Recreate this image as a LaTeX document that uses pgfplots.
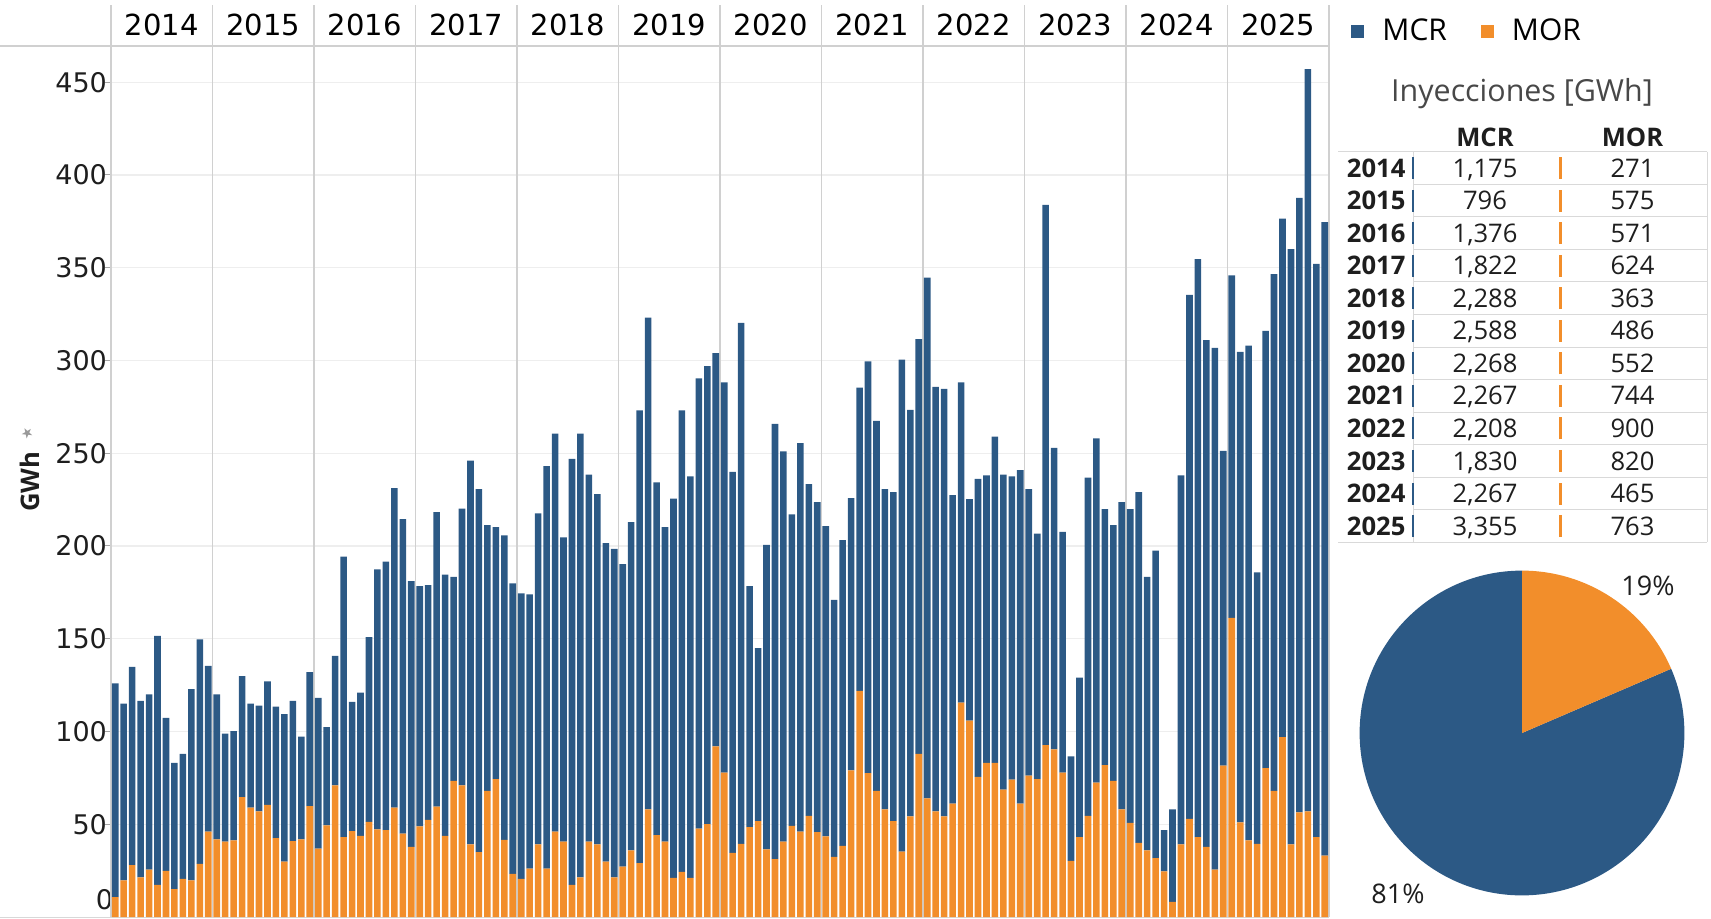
\documentclass[border=0pt]{standalone}
\usepackage{fontspec}
\setmainfont{Open Sans}
\newfontfamily\dejavu{DejaVu Sans}
\usepackage{pgfplots}
\usepackage{pgfplotstable}
\pgfplotsset{compat=1.18}
\definecolor{mcr}{RGB}{44,89,133}
\definecolor{mor}{RGB}{242,142,43}
\definecolor{divider}{RGB}{208,208,208}
\definecolor{gridc}{RGB}{238,238,238}
\definecolor{txt}{RGB}{30,30,30}
\definecolor{titlec}{RGB}{72,72,72}

\pgfplotstableread{
x mor mcr
0.5 10.7 115.3
1.5 19.8 95.2
2.5 28.0 106.8
3.5 21.4 95.1
4.5 25.5 94.5
5.5 17.3 134.2
6.5 24.9 82.5
7.5 15.1 68.0
8.5 20.5 67.4
9.5 19.8 103.0
10.5 28.7 120.9
11.5 46.0 89.4
12.5 41.9 78.1
13.5 40.6 58.3
14.5 41.3 58.9
15.5 64.6 65.2
16.5 58.9 56.1
17.5 57.0 57.0
18.5 60.5 66.5
19.5 42.5 70.9
20.5 29.9 79.4
21.5 40.9 75.6
22.5 41.9 55.4
23.5 59.8 72.2
24.5 36.9 81.2
25.5 49.4 53.0
26.5 70.9 69.9
27.5 43.1 151.2
28.5 46.3 69.6
29.5 43.8 77.1
30.5 51.3 99.6
31.5 47.2 140.2
32.5 46.9 144.6
33.5 58.9 172.3
34.5 45.0 169.5
35.5 37.8 143.3
36.5 48.8 129.5
37.5 52.3 126.6
38.5 59.5 158.8
39.5 43.8 140.8
40.5 73.4 109.9
41.5 70.9 149.3
42.5 39.1 206.9
43.5 35.0 195.6
44.5 68.0 143.3
45.5 74.3 135.8
46.5 41.6 164.1
47.5 23.3 156.5
48.5 20.5 154.0
49.5 26.1 147.8
50.5 39.1 178.5
51.5 26.1 217.0
52.5 46.0 214.5
53.5 40.6 164.1
54.5 17.3 229.6
55.5 21.4 239.1
56.5 40.6 197.8
57.5 39.1 188.9
58.5 29.9 171.7
59.5 21.4 177.0
60.5 27.1 163.1
61.5 35.9 177.0
62.5 29.0 244.1
63.5 58.0 265.1
64.5 44.1 190.2
65.5 40.6 169.5
66.5 21.1 204.4
67.5 24.3 248.8
68.5 21.1 216.4
69.5 47.6 242.8
70.5 50.1 246.9
71.5 92.0 211.9
72.5 77.8 210.4
73.5 34.6 205.4
74.5 39.4 280.9
75.5 48.5 129.8
76.5 51.7 93.2
77.5 36.5 164.1
78.5 31.2 234.6
79.5 40.6 210.4
80.5 49.1 167.9
81.5 46.0 209.4
82.5 54.5 178.9
83.5 45.7 177.9
84.5 43.5 167.2
85.5 32.4 138.6
86.5 38.4 164.7
87.5 79.1 146.7
88.5 121.9 163.5
89.5 77.5 222.0
90.5 68.0 199.4
91.5 58.0 172.6
92.5 51.7 177.3
93.5 35.3 265.2
94.5 54.2 219.2
95.5 87.9 223.6
96.5 63.9 280.7
97.5 57.0 228.7
98.5 54.2 230.5
99.5 61.1 166.3
100.5 115.6 172.6
101.5 105.8 119.4
102.5 75.6 160.6
103.5 83.1 155.0
104.5 83.1 175.8
105.5 68.7 169.7
106.5 74.0 163.5
107.5 61.1 179.8
108.5 76.2 154.4
109.5 74.3 132.3
110.5 92.6 291.3
111.5 90.4 162.5
112.5 77.8 129.8
113.5 30.2 56.4
114.5 43.1 86.0
115.5 54.5 182.4
116.5 72.4 185.6
117.5 81.9 137.9
118.5 73.4 137.9
119.5 58.0 165.6
120.5 50.7 169.1
121.5 40.0 189.0
122.5 35.9 147.4
123.5 31.8 165.7
124.5 24.6 22.3
125.5 8.2 49.8
126.5 39.1 199.0
127.5 52.9 282.5
128.5 43.1 311.5
129.5 37.8 273.1
130.5 25.5 281.3
131.5 81.6 169.7
132.5 161.3 184.5
133.5 51.0 253.6
134.5 41.3 266.7
135.5 39.4 146.4
136.5 80.3 235.6
137.5 68.0 278.5
138.5 97.0 279.4
139.5 39.1 320.9
140.5 56.4 331.3
141.5 57.0 400.0
142.5 43.1 309.0
143.5 33.1 341.4
}\inyecciones

\def\morTot{763}
\def\mcrTot{3355}

\begin{document}
\begin{tikzpicture}
\useasboundingbox (0,0) rectangle (855.5pt,459pt);
% header and bottom lines
\draw[divider, line width=0.6pt] (0,436pt) -- (664.5pt,436pt);
\draw[gridc!80!gray, line width=0.6pt] (0,0.4pt) -- (664.5pt,0.4pt);
\begin{axis}[
  name=bars,
  at={(55.5pt,0.5pt)}, anchor=south west,
  scale only axis, width=609pt, height=435.5pt,
  xmin=0, xmax=144, ymin=0, ymax=469.5,
  clip=false,
  ybar stacked, bar width=0.78,
  axis line style={draw=none},
  ytick={50,100,...,450},
  extra y ticks={0},
  extra y tick style={yticklabel style={yshift=8.5pt}, major tick length=0pt, grid=none},
  ymajorgrids, major grid style={draw=gridc, line width=0.6pt},
  ytick pos=left, tick align=outside,
  major tick length=3pt,
  ytick style={draw=gray!70, line width=0.5pt},
  yticklabel style={font=\dejavu\fontsize{13.5}{15}\selectfont, text=txt, xshift=4.5pt},
  /pgf/number format/assume math mode=true,
  xtick={6,18,...,138},
  xticklabels={2014,2015,2016,2017,2018,2019,2020,2021,2022,2023,2024,2025},
  xticklabel pos=upper,
  xtick style={draw=none},
  xticklabel style={font=\dejavu\fontsize{14.5}{16}\selectfont, text=black, anchor=center, yshift=7.3pt},
  ylabel={GWh},
  ylabel style={font=\bfseries\fontsize{12.8}{14}\selectfont, text=txt, at={(rel axis cs:0,0.5)}, anchor=center, yshift=40.5pt},
  reverse legend,
  legend columns=2,
  legend style={at={(rel axis cs:1,1)}, anchor=west, xshift=11pt, yshift=7.5pt,
    draw=none, fill=none, inner sep=0pt,
    font=\fontsize{15}{17}\selectfont,
    /tikz/every odd column/.append style={column sep=7pt},
    /tikz/every even column/.append style={column sep=15pt}},
]
\addplot[fill=mor, draw=none, legend image code/.code={\fill[mor] (0pt,-3.25pt) rectangle (6.5pt,3.25pt);}] table[x=x, y=mor]{\inyecciones};
\addlegendentry{MOR}
\addplot[fill=mcr, draw=none, legend image code/.code={\fill[mcr] (0pt,-3.25pt) rectangle (6.5pt,3.25pt);}] table[x=x, y=mcr]{\inyecciones};
\addlegendentry{MCR}
\pgfplotsinvokeforeach{0,12,24,36,48,60,72,84,96,108,120,132,144}{
  \draw[divider, line width=0.6pt] (axis cs:#1,0) -- (axis cs:#1,491.6);
}
\end{axis}
\node[text=gray!80, rotate=30, font=\dejavu\fontsize{7}{7}\selectfont] at (13.5pt,242.5pt) {★};

% table
\tikzset{tcell/.style={font=\fontsize{12.8}{14}\selectfont, text=txt, text height=9.1pt, text depth=0pt, inner sep=0pt},
         tline/.style={draw=gray!30, line width=0.5pt}}
\node[font=\fontsize{15.2}{17}\selectfont, text=titlec] at (761pt,412.3pt) {Inyecciones [GWh]};
\node[tcell, font=\bfseries\fontsize{12.8}{14}\selectfont] at (742.5pt,390.25pt) {MCR};
\node[tcell, font=\bfseries\fontsize{12.8}{14}\selectfont] at (816.25pt,390.25pt) {MOR};
\draw[tline] (669pt,383.1pt) -- (853.5pt,383.1pt);
\draw[tline] (669pt,187.85pt) -- (853.5pt,187.85pt);
\draw[tline] (853.5pt,383.1pt) -- (853.5pt,187.85pt);
\draw[tline] (706.5pt,383.1pt) -- (706.5pt,187.85pt);
\foreach \yr/\a/\b [count=\i from 0] in {2014/{1,175}/271, 2015/{796}/575, 2016/{1,376}/571, 2017/{1,822}/624, 2018/{2,288}/363, 2019/{2,588}/486, 2020/{2,268}/552, 2021/{2,267}/744, 2022/{2,208}/900, 2023/{1,830}/820, 2024/{2,267}/465, 2025/{3,355}/763} {
  \pgfmathsetmacro{\yy}{375-16.275*\i}
  \node[tcell, anchor=west, font=\bfseries\fontsize{12.8}{14}\selectfont] at (673.25pt,\yy pt) {\yr};
  \node[tcell] at (742.5pt,\yy pt) {\a};
  \node[tcell] at (816.25pt,\yy pt) {\b};
  \draw[mcr, line width=1.1pt] (706.5pt,{\yy pt-5.5pt}) -- (706.5pt,{\yy pt+5.5pt});
  \draw[mor, line width=1.1pt] (780.25pt,{\yy pt-5.5pt}) -- (780.25pt,{\yy pt+5.5pt});
  \ifnum\i>0 \draw[tline] (706.5pt,{\yy pt+8.1375pt}) -- (853.5pt,{\yy pt+8.1375pt}); \fi
}

% pie (2025)
\pgfmathsetmacro{\morangle}{360*(\morTot/(\morTot+\mcrTot))}
\pgfmathsetmacro{\mcrend}{450-\morangle}
\pgfmathsetmacro{\morend}{90-\morangle}
\begin{axis}[at={(761pt,92.5pt)}, anchor=center, hide axis, x=81.2pt, y=81.2pt,
  xmin=-1, xmax=1, ymin=-1, ymax=1, clip=false]
\fill[mcr] (axis cs:0,0) -- (axis cs:0,1) arc[start angle=90, end angle=\mcrend, radius=81.2pt] -- cycle;
\fill[mor] (axis cs:0,0) -- (axis cs:0,1) arc[start angle=90, end angle=\morend, radius=81.2pt] -- cycle;
\node[font=\fontsize{13.5}{15}\selectfont, text=txt] at (axis cs:0.776,0.905) {19\%};
\node[font=\fontsize{13.5}{15}\selectfont, text=txt] at (axis cs:-0.764,-0.991) {81\%};
\end{axis}
\end{tikzpicture}
\end{document}
